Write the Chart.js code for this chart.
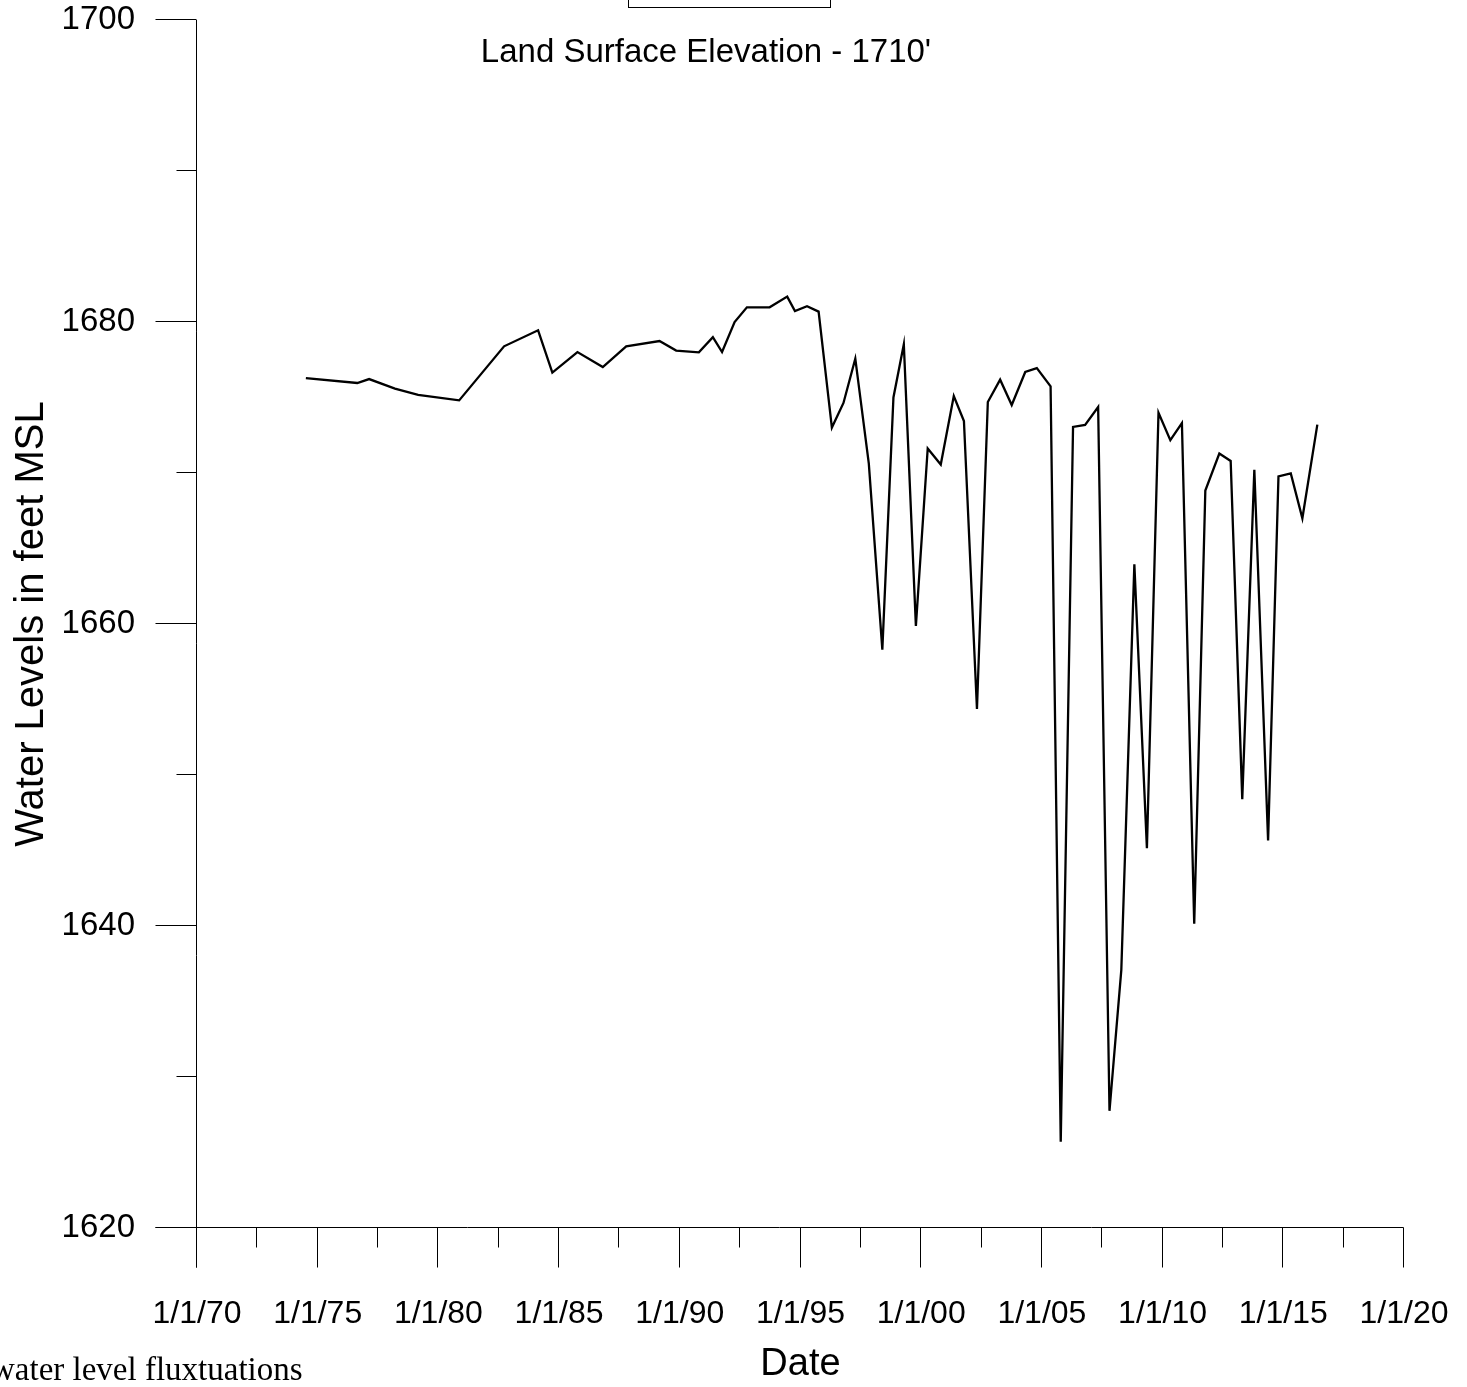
<!DOCTYPE html>
<html>
<head>
<meta charset="utf-8">
<title>Water level fluxtuations</title>
<script src="https://cdn.jsdelivr.net/npm/chart.js@4.4.1/dist/chart.umd.min.js"></script>
<style>
  html, body { margin: 0; padding: 0; background: #fff; overflow: hidden; }
  #chart { display: block; }
</style>
</head>
<body>
<canvas id="chart" width="1467" height="1387"></canvas>
<script>
const sampleYears = [
  1974.51, 1976.64, 1977.13, 1978.20, 1979.16, 1980.86, 1982.72, 1984.13,
  1984.72, 1985.76, 1986.81, 1987.78, 1989.16, 1989.85, 1990.79, 1991.37,
  1991.75, 1992.27, 1992.78, 1993.72, 1994.45, 1994.77, 1995.27, 1995.75,
  1996.30, 1996.78, 1997.27, 1997.83, 1998.39, 1998.85, 1999.28, 1999.78,
  2000.27, 2000.81, 2001.35, 2001.77, 2002.31, 2002.76, 2003.27, 2003.75,
  2004.31, 2004.79, 2005.36, 2005.78, 2006.29, 2006.79, 2007.33, 2007.80,
  2008.29, 2008.83, 2009.35, 2009.83, 2010.32, 2010.80, 2011.31, 2011.77,
  2012.35, 2012.82, 2013.30, 2013.80, 2014.37, 2014.80, 2015.31, 2015.79,
  2016.41
];
// water level in feet MSL
const waterLevels = [
  1676.29, 1675.96, 1676.22, 1675.59, 1675.17, 1674.81, 1678.39, 1679.45,
  1676.65, 1678.01, 1677.02, 1678.39, 1678.74, 1678.11, 1677.99, 1678.99,
  1678.01, 1680.00, 1680.97, 1680.97, 1681.68, 1680.73, 1681.04, 1680.69,
  1673.01, 1674.64, 1677.57, 1670.62, 1658.30, 1675.00, 1678.52, 1659.87,
  1671.62, 1670.56, 1675.10, 1673.44, 1654.37, 1674.70, 1676.18, 1674.50,
  1676.69, 1676.95, 1675.74, 1625.71, 1673.05, 1673.18, 1674.37, 1627.76,
  1637.09, 1663.95, 1645.15, 1673.99, 1672.17, 1673.30, 1640.15, 1668.84,
  1671.29, 1670.80, 1648.40, 1670.21, 1645.66, 1669.77, 1669.97, 1667.00,
  1673.20
];

const xTickYears = [1970, 1975, 1980, 1985, 1990, 1995, 2000, 2005, 2010, 2015, 2020];
const yTickLevels = [1620, 1640, 1660, 1680, 1700];

const chartTitle = "Land Surface Elevation - 1710'";
const footNote = "water level fluxtuations";

const SANS = "Arial, 'Liberation Sans', sans-serif";

function dateLabel(year) {
  return "1/1/" + String(year % 100).padStart(2, "0");
}

// keep the plot box where the original has it, whatever the labels need
function noScalePadding(scale) {
  scale.paddingTop = 0;
  scale.paddingBottom = 0;
  scale.paddingLeft = 0;
  scale.paddingRight = 0;
}

// axes are drawn by hand: long ticks on the labelled values, short ones between
const axisFrame = {
  id: "axisFrame",
  afterDraw(chart) {
    const ctx = chart.ctx;
    const xs = chart.scales.x;
    const ys = chart.scales.y;
    const x0 = Math.round(xs.getPixelForValue(xs.min)) - 0.5;
    const y0 = Math.round(ys.getPixelForValue(ys.min)) - 0.5;
    const top = Math.round(ys.getPixelForValue(ys.max));
    const right = Math.round(xs.getPixelForValue(xs.max)) - 0.5;

    ctx.save();
    ctx.strokeStyle = "#000";
    ctx.lineWidth = 1;
    ctx.beginPath();
    // y axis, runs on below the x axis as the first date tick
    ctx.moveTo(x0, top);
    ctx.lineTo(x0, y0 + 40);
    // x axis, runs on left as the lowest level tick
    ctx.moveTo(x0 - 41, y0);
    ctx.lineTo(right, y0);

    xTickYears.forEach((v, i) => {
      const px = Math.round(xs.getPixelForValue(v)) - 0.5;
      ctx.moveTo(px, y0);
      ctx.lineTo(px, y0 + 40);
      if (i > 0) {
        const mid = Math.round(xs.getPixelForValue((v + xTickYears[i - 1]) / 2)) - 0.5;
        ctx.moveTo(mid, y0);
        ctx.lineTo(mid, y0 + 20);
      }
    });
    yTickLevels.forEach((v, i) => {
      const py = Math.round(ys.getPixelForValue(v)) - 0.5;
      ctx.moveTo(x0, py);
      ctx.lineTo(x0 - 41, py);
      if (i > 0) {
        const mid = Math.round(ys.getPixelForValue((v + yTickLevels[i - 1]) / 2)) - 0.5;
        ctx.moveTo(x0, mid);
        ctx.lineTo(x0 - 20, mid);
      }
    });
    ctx.stroke();

    // empty legend box clipped at the top edge
    ctx.strokeRect(628.5, -2.5, 202, 10);

    ctx.fillStyle = "#000";
    ctx.textBaseline = "alphabetic";
    ctx.font = "33px " + SANS;
    ctx.textAlign = "center";
    ctx.fillText(chartTitle, 706, 62);

    ctx.font = "33px 'Liberation Serif', 'Times New Roman', serif";
    ctx.textAlign = "left";
    ctx.fillText(footNote, -9, 1380);
    ctx.restore();
  }
};

const ctx = document.getElementById("chart");

new Chart(ctx, {
  type: "line",
  data: {
    datasets: [{
      label: "Water level",
      data: sampleYears.map((yr, i) => ({ x: yr, y: waterLevels[i] })),
      borderColor: "#000",
      borderWidth: 2.3,
      pointRadius: 0,
      tension: 0,
      fill: false
    }]
  },
  options: {
    responsive: false,
    animation: false,
    devicePixelRatio: 1,
    layout: { padding: { top: 20, right: 63, left: 0, bottom: 0 } },
    plugins: {
      legend: { display: false },
      tooltip: { enabled: false }
    },
    scales: {
      x: {
        type: "linear",
        min: 1970,
        max: 2020,
        afterBuildTicks: (scale) => { scale.ticks = xTickYears.map(v => ({ value: v })); },
        afterFit: (scale) => { scale.height = 159; noScalePadding(scale); },
        grid: { display: false, drawTicks: false },
        border: { display: false },
        ticks: {
          padding: 67,
          color: "#000",
          maxRotation: 0,
          autoSkip: false,
          font: { family: SANS, size: 32 },
          callback: (v) => dateLabel(v)
        },
        title: {
          display: true,
          text: "Date",
          color: "#000",
          padding: { top: 0, bottom: 0 },
          font: { family: SANS, size: 38 }
        }
      },
      y: {
        min: 1620,
        max: 1700,
        afterBuildTicks: (scale) => { scale.ticks = yTickLevels.map(v => ({ value: v })); },
        afterFit: (scale) => { scale.width = 197; noScalePadding(scale); },
        grid: { display: false, drawTicks: false },
        border: { display: false },
        ticks: {
          padding: 62,
          color: "#000",
          autoSkip: false,
          font: { family: SANS, size: 33 },
          callback: (v) => String(v)
        },
        title: {
          display: true,
          text: "Water Levels in feet MSL",
          color: "#000",
          padding: { top: 8, bottom: 0 },
          font: { family: SANS, size: 40 }
        }
      }
    }
  },
  plugins: [axisFrame]
});
</script>
</body>
</html>
